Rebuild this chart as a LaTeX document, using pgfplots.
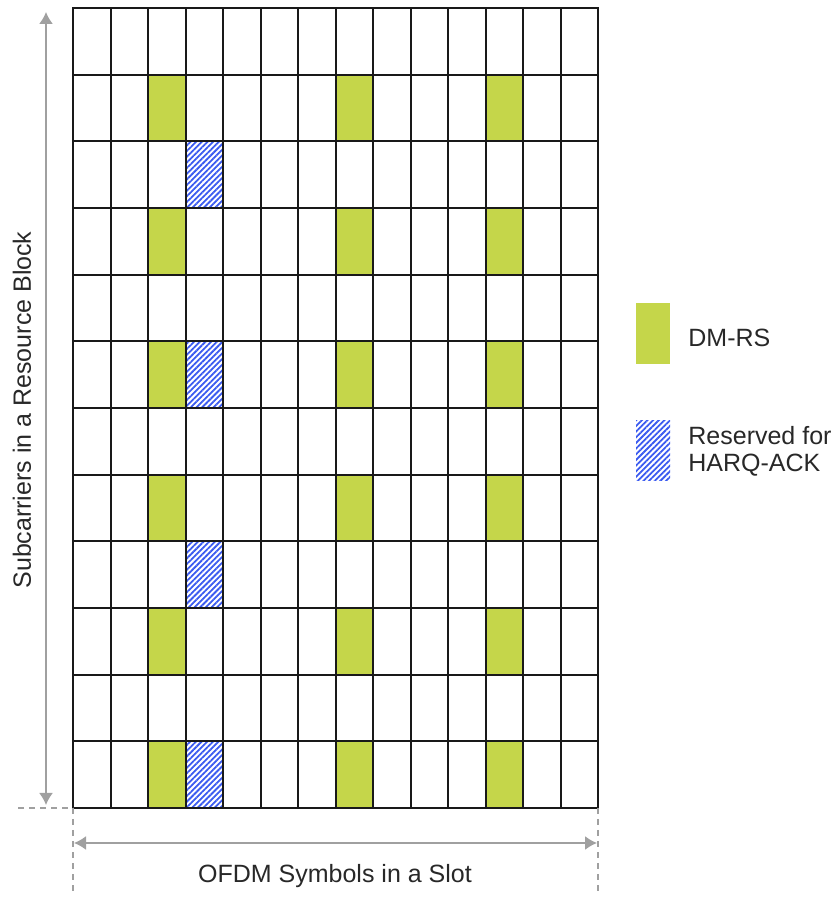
\documentclass[border=0pt]{standalone}
\usepackage{fontspec}
\setmainfont{Liberation Sans}
\usepackage{pgfplots}
\pgfplotsset{compat=1.18}
\usetikzlibrary{arrows.meta,patterns.meta}
\definecolor{dmrs}{HTML}{C5D64A}
\definecolor{harq}{HTML}{3A5AF0}
\definecolor{annot}{HTML}{A0A0A0}
\definecolor{txt}{HTML}{282828}
\begin{document}
\begin{tikzpicture}
\useasboundingbox (-36.5pt,-45pt) rectangle (380pt,404pt);
\begin{axis}[
  at={(0,0)}, anchor=south west,
  scale only axis, width=262.5pt, height=400pt,
  xmin=0, xmax=14, ymin=0, ymax=12,
  xtick={0,...,14}, ytick={0,...,12},
  xticklabels={}, yticklabels={},
  major tick length=0pt,
  grid=major,
  grid style={black!90, line width=1pt},
  axis line style={black!90, line width=1pt},
  axis on top,
]
% DM-RS cells (columns 2, 7, 11; rows 0,2,4,6,8,10)
\addplot[fill=dmrs, draw=none, forget plot] coordinates {(2,0)(3,0)(3,1)(2,1)} -- cycle;
\addplot[fill=dmrs, draw=none, forget plot] coordinates {(2,2)(3,2)(3,3)(2,3)} -- cycle;
\addplot[fill=dmrs, draw=none, forget plot] coordinates {(2,4)(3,4)(3,5)(2,5)} -- cycle;
\addplot[fill=dmrs, draw=none, forget plot] coordinates {(2,6)(3,6)(3,7)(2,7)} -- cycle;
\addplot[fill=dmrs, draw=none, forget plot] coordinates {(2,8)(3,8)(3,9)(2,9)} -- cycle;
\addplot[fill=dmrs, draw=none, forget plot] coordinates {(2,10)(3,10)(3,11)(2,11)} -- cycle;
\addplot[fill=dmrs, draw=none, forget plot] coordinates {(7,0)(8,0)(8,1)(7,1)} -- cycle;
\addplot[fill=dmrs, draw=none, forget plot] coordinates {(7,2)(8,2)(8,3)(7,3)} -- cycle;
\addplot[fill=dmrs, draw=none, forget plot] coordinates {(7,4)(8,4)(8,5)(7,5)} -- cycle;
\addplot[fill=dmrs, draw=none, forget plot] coordinates {(7,6)(8,6)(8,7)(7,7)} -- cycle;
\addplot[fill=dmrs, draw=none, forget plot] coordinates {(7,8)(8,8)(8,9)(7,9)} -- cycle;
\addplot[fill=dmrs, draw=none, forget plot] coordinates {(7,10)(8,10)(8,11)(7,11)} -- cycle;
\addplot[fill=dmrs, draw=none, forget plot] coordinates {(11,0)(12,0)(12,1)(11,1)} -- cycle;
\addplot[fill=dmrs, draw=none, forget plot] coordinates {(11,2)(12,2)(12,3)(11,3)} -- cycle;
\addplot[fill=dmrs, draw=none, forget plot] coordinates {(11,4)(12,4)(12,5)(11,5)} -- cycle;
\addplot[fill=dmrs, draw=none, forget plot] coordinates {(11,6)(12,6)(12,7)(11,7)} -- cycle;
\addplot[fill=dmrs, draw=none, forget plot] coordinates {(11,8)(12,8)(12,9)(11,9)} -- cycle;
\addplot[fill=dmrs, draw=none, forget plot] coordinates {(11,10)(12,10)(12,11)(11,11)} -- cycle;
% HARQ-ACK reserved cells (column 3; rows 0,3,6,9)
\addplot[pattern={Lines[angle=45,distance=2pt,line width=0.9pt]}, pattern color=harq, draw=none, forget plot] coordinates {(3,0)(4,0)(4,1)(3,1)} -- cycle;
\addplot[pattern={Lines[angle=45,distance=2pt,line width=0.9pt]}, pattern color=harq, draw=none, forget plot] coordinates {(3,3)(4,3)(4,4)(3,4)} -- cycle;
\addplot[pattern={Lines[angle=45,distance=2pt,line width=0.9pt]}, pattern color=harq, draw=none, forget plot] coordinates {(3,6)(4,6)(4,7)(3,7)} -- cycle;
\addplot[pattern={Lines[angle=45,distance=2pt,line width=0.9pt]}, pattern color=harq, draw=none, forget plot] coordinates {(3,9)(4,9)(4,10)(3,10)} -- cycle;
\end{axis}
% annotations
\draw[annot, line width=0.8pt, {Latex[length=6pt,width=7pt]}-{Latex[length=6pt,width=7pt]}] (-13.5pt,1.5pt) -- (-13.5pt,398pt);
\draw[annot, line width=0.8pt, dash pattern=on 3pt off 2.5pt] (-27.5pt,0pt) -- (0pt,0pt);
\draw[annot, line width=0.8pt, dash pattern=on 3pt off 2.5pt] (0pt,0pt) -- (0pt,-42.5pt);
\draw[annot, line width=0.8pt, dash pattern=on 3pt off 2.5pt] (262.5pt,0pt) -- (262.5pt,-42.5pt);
\draw[annot, line width=0.8pt, {Latex[length=6pt,width=7pt]}-{Latex[length=6pt,width=7pt]}] (0.5pt,-17.5pt) -- (262pt,-17.5pt);
\node[txt, font=\fontsize{12.5}{14}\selectfont] at (131pt,-34pt) {OFDM Symbols in a Slot};
\node[txt, font=\fontsize{12.5}{14}\selectfont, rotate=90] at (-25.5pt,199pt) {Subcarriers in a Resource Block};
% legend
\fill[dmrs] (281.5pt,222pt) rectangle (298.5pt,252.5pt);
\node[txt, font=\fontsize{12.5}{14}\selectfont, anchor=west, inner sep=0pt] at (307.5pt,235pt) {DM-RS};
\fill[pattern={Lines[angle=45,distance=2pt,line width=0.9pt]}, pattern color=harq] (281.5pt,163.5pt) rectangle (298.5pt,193.5pt);
\node[txt, font=\fontsize{12.5}{13.5}\selectfont, anchor=west, inner sep=0pt, align=left] at (307.5pt,178.5pt) {Reserved for\\HARQ-ACK};
\end{tikzpicture}
\end{document}
